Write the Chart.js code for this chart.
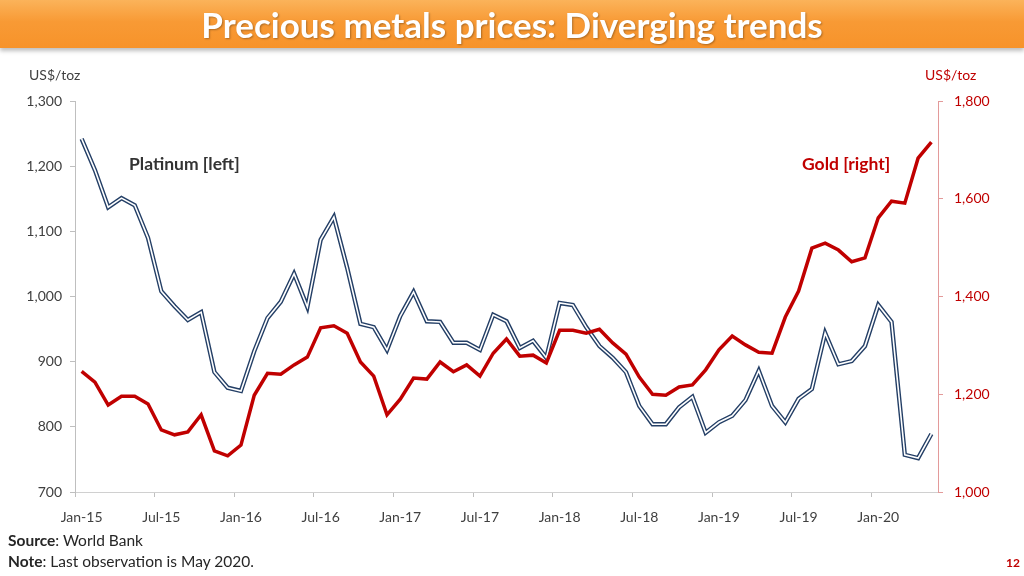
<!DOCTYPE html>
<html>
<head>
<meta charset="utf-8">
<script src="https://cdn.jsdelivr.net/npm/chart.js@4.4.1/dist/chart.umd.min.js"></script>
<style>
  body { margin: 0; width: 1024px; height: 576px; background: #fff; font-family: Lato, sans-serif; overflow: hidden; position: relative; }
  #bar {
    position: absolute; left: 0; top: 0; width: 1024px; height: 48px;
    background: linear-gradient(#fbb35a 0%, #f89a35 45%, #f7932a 100%);
    box-shadow: 0 3px 4px rgba(0,0,0,0.25);
    color: #fff; font-weight: bold; font-size: 35px; text-align: center; line-height: 48px;
    text-shadow: 1px 1px 2px rgba(0,0,0,0.3); z-index: 2;
  }
  canvas { position: absolute; left: 0; top: 0; }
  .lbl { position: absolute; font-size: 14px; z-index: 2; white-space: nowrap; }
</style>
</head>
<body>
<div id="bar">Precious metals prices: Diverging trends</div>
<canvas id="myChart" width="1024" height="576"></canvas>
<div class="lbl" style="left:29px;top:66px;color:#404040">US$/toz</div>
<div class="lbl" style="left:925px;top:66px;color:#c00000">US$/toz</div>
<div class="lbl" style="left:129px;top:153px;color:#333;font-weight:bold;font-size:17.5px">Platinum [left]</div>
<div class="lbl" style="left:802px;top:153px;color:#c00000;font-weight:bold;font-size:17.5px">Gold [right]</div>
<div class="lbl" style="left:8px;top:531px;color:#262626;font-size:15.5px"><b>Source</b>: World Bank</div>
<div class="lbl" style="left:8px;top:552px;color:#262626;font-size:15.5px"><b>Note</b>: Last observation is May 2020.</div>
<div class="lbl" style="left:1006px;top:555px;color:#c00000;font-weight:bold;font-size:12px">12</div>
<script>
var months = [
  "Jan-15","Feb-15","Mar-15","Apr-15","May-15","Jun-15","Jul-15","Aug-15","Sep-15","Oct-15","Nov-15","Dec-15",
  "Jan-16","Feb-16","Mar-16","Apr-16","May-16","Jun-16","Jul-16","Aug-16","Sep-16","Oct-16","Nov-16","Dec-16",
  "Jan-17","Feb-17","Mar-17","Apr-17","May-17","Jun-17","Jul-17","Aug-17","Sep-17","Oct-17","Nov-17","Dec-17",
  "Jan-18","Feb-18","Mar-18","Apr-18","May-18","Jun-18","Jul-18","Aug-18","Sep-18","Oct-18","Nov-18","Dec-18",
  "Jan-19","Feb-19","Mar-19","Apr-19","May-19","Jun-19","Jul-19","Aug-19","Sep-19","Oct-19","Nov-19","Dec-19",
  "Jan-20","Feb-20","Mar-20","Apr-20","May-20"
];
// platinum, US$/toz (left axis)
var platinum = [
  1242, 1194, 1137, 1151, 1140, 1090, 1008, 985, 964, 976, 884, 860,
  855, 916, 967, 992, 1035, 984, 1087, 1122, 1044, 958, 953, 918,
  970, 1007, 962, 961, 929, 929, 918, 972, 962, 921, 932, 906,
  990, 987, 953, 924, 906, 884, 832, 804, 804, 830, 846, 791,
  807, 817, 841, 886, 832, 807, 843, 858, 944, 896, 901, 924,
  987, 961, 757, 752, 789
];
// gold, US$/toz (right axis)
var gold = [
  1247, 1225, 1178, 1196, 1196, 1180, 1127, 1117, 1123, 1158, 1084, 1074,
  1096, 1198, 1243, 1241, 1260, 1276, 1336, 1340, 1325, 1266, 1237, 1158,
  1190, 1233, 1231, 1266, 1246, 1260, 1237, 1284, 1313, 1278, 1280, 1264,
  1331, 1331, 1325, 1333, 1305, 1282, 1235, 1200, 1198, 1215, 1219, 1250,
  1291, 1319, 1301, 1286, 1284, 1358, 1411, 1499, 1509, 1495, 1471, 1479,
  1561, 1595, 1591, 1683, 1716
];

var fmt = function (v) { return v.toLocaleString("en-US"); };

var ctx = document.getElementById("myChart").getContext("2d");
var chart = new Chart(ctx, {
  type: "line",
  data: {
    labels: months,
    datasets: [
      {
        label: "Gold [right]",
        data: gold,
        yAxisID: "y1",
        borderColor: "#c00000",
        borderWidth: 3.5,
        pointRadius: 0,
        tension: 0,
        order: 0,
      },
      {
        label: "Platinum inner",
        data: platinum,
        yAxisID: "y",
        borderColor: "#ffffff",
        borderWidth: 1.6,
        pointRadius: 0,
        tension: 0,
        order: 1,
      },
      {
        label: "Platinum [left]",
        data: platinum,
        yAxisID: "y",
        borderColor: "#243f66",
        borderWidth: 4.4,
        pointRadius: 0,
        tension: 0,
        order: 2,
      },
    ],
  },
  options: {
    responsive: false,
    animation: false,
    layout: { padding: { top: 101, bottom: 44, left: 0, right: 0 } },
    plugins: { legend: { display: false }, tooltip: { enabled: false } },
    scales: {
      x: {
        offset: true,
        afterFit: function (s) { s.height = 40; },
        grid: {
          offset: true,
          drawOnChartArea: false,
          tickLength: 5,
          color: function (c) { return c.index % 6 === 0 ? "#bfbfbf" : "rgba(0,0,0,0)"; },
        },
        border: { color: "#d0d0d0", width: 1 },
        ticks: {
          autoSkip: false,
          maxRotation: 0,
          padding: 12,
          color: "#404040",
          font: { family: "Lato", size: 14 },
          callback: function (v, i) { return i % 6 === 0 ? months[i] : ""; },
        },
      },
      y: {
        position: "left",
        min: 700,
        max: 1300,
        afterFit: function (s) { s.width = 75; },
        grid: { drawOnChartArea: false, tickLength: 5, color: "#bfbfbf" },
        border: { color: "#bfbfbf", width: 1 },
        ticks: {
          stepSize: 100,
          padding: 8,
          color: "#404040",
          font: { family: "Lato", size: 14 },
          callback: fmt,
        },
      },
      y1: {
        position: "right",
        min: 1000,
        max: 1800,
        afterFit: function (s) { s.width = 86; },
        grid: { drawOnChartArea: false, tickLength: 5, color: "#e39a9a" },
        border: { color: "#e39a9a", width: 1 },
        ticks: {
          stepSize: 200,
          padding: 11,
          color: "#c00000",
          font: { family: "Lato", size: 14 },
          callback: fmt,
        },
      },
    },
  },
});
</script>
</body>
</html>
